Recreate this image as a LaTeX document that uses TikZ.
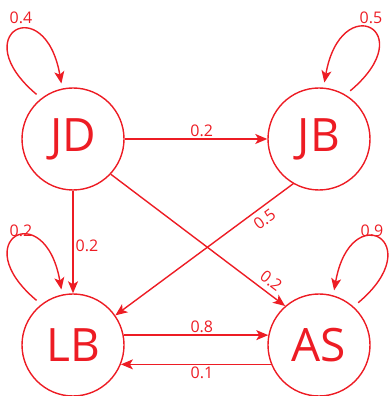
\documentclass[tikz,border=0pt]{standalone}
\usepackage{fontspec}
\setmainfont{Open Sans}
\usetikzlibrary{arrows.meta}
\definecolor{mred}{RGB}{237,28,36}

\begin{document}
\begin{tikzpicture}[x=1pt,y=1pt,
  state/.style={circle,draw=mred,line width=1.4pt,minimum size=102pt,inner sep=0pt,
    text=mred,font=\fontsize{46}{46}\selectfont},
  arr/.style={draw=mred,line width=1.4pt,-{Stealth[length=12pt,width=10pt,inset=3pt]}},
  lbl/.style={text=mred,font=\fontsize{16}{18}\selectfont,inner sep=2pt}]
\useasboundingbox (0,0) rectangle (388,396);

\node[state] (JD) at (73,257) {JD};
\node[state] (JB) at (319,257) {JB};
\node[state] (LB) at (73,51) {LB};
\node[state] (AS) at (319,51) {AS};

\draw[arr] (JD.east) -- node[lbl,above,pos=0.54] {0.2} (JB.west);
\draw[arr] (JD.south) -- node[lbl,right,pos=0.54] {0.2} (LB.north);
\draw[arr] (JB.240) -- node[lbl,below=3pt,sloped,pos=0.2] {0.5} (LB.35);
\draw[arr] (JD.-43) -- node[lbl,above=3pt,sloped,pos=0.88] {0.2} (AS.131);
\draw[arr] (LB.11) -- node[lbl,above,pos=0.54] {0.8} (AS.169);
\draw[arr] (AS.202) -- node[lbl,below,pos=0.46] {0.1} (LB.338);

\draw[arr,shorten <=6pt,shorten >=5pt] (JD.128) .. controls +(140:100) and +(100:100) .. (JD.102);
\draw[arr,shorten <=6pt,shorten >=5pt] (JB.59) .. controls +(40:100) and +(80:100) .. (JB.85);
\draw[arr,shorten <=6pt,shorten >=5pt] (LB.128) .. controls +(140:100) and +(100:100) .. (LB.102);
\draw[arr,shorten <=6pt,shorten >=5pt] (AS.48) .. controls +(40:100) and +(80:100) .. (AS.74);

\node[lbl] (pJD) at (21,378) {0.4};
\node[lbl] (pJB) at (371,378) {0.5};
\node[lbl] (pLB) at (21,165) {0.2};
\node[lbl] (pAS) at (372,165) {0.9};

\end{tikzpicture}
\end{document}
